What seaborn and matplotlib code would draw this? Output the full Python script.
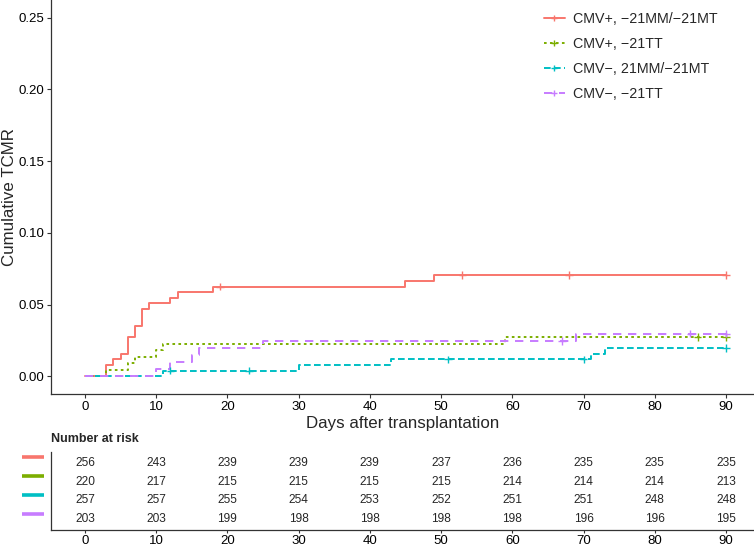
import pandas as pd
import matplotlib.pyplot as plt
import matplotlib.transforms as mtransforms
from matplotlib.lines import Line2D
import seaborn as sns

# groups
groups = ["CMV+, −21MM/−21MT", "CMV+, −21TT", "CMV−, 21MM/−21MT", "CMV−, −21TT"]
colors = ["#F8766D", "#7CAE00", "#00BFC4", "#C77CFF"]

# step curves (day, cumulative TCMR)
red_days = [0, 3, 4, 5, 6, 7, 8, 9, 12, 13, 18, 45, 49, 90]
red_cum = [0, 0.0078, 0.0117, 0.0156, 0.0273, 0.0352, 0.0469, 0.0508, 0.0547,
           0.0586, 0.0625, 0.0664, 0.0707, 0.0707]
green_days = [0, 3, 6, 7, 10, 11, 59, 90]
green_cum = [0, 0.0045, 0.0091, 0.0136, 0.0182, 0.0227, 0.0274, 0.0274]
cyan_days = [0, 11, 30, 43, 71, 73, 90]
cyan_cum = [0, 0.0039, 0.0078, 0.0118, 0.0158, 0.0199, 0.0199]
purple_days = [0, 10, 12, 15, 16, 25, 69, 90]
purple_cum = [0, 0.0049, 0.0099, 0.0148, 0.0197, 0.0247, 0.0298, 0.0298]

# censor marks
red_cens_days = [19, 53, 68, 90]
red_cens_cum = [0.0625, 0.0707, 0.0707, 0.0707]
green_cens_days = [86, 90]
green_cens_cum = [0.0274, 0.0274]
cyan_cens_days = [12, 23, 51, 70, 90]
cyan_cens_cum = [0.0039, 0.0039, 0.0118, 0.0118, 0.0199]
purple_cens_days = [67, 85, 90]
purple_cens_cum = [0.0247, 0.0298, 0.0298]

# number at risk
risk_days = [0, 10, 20, 30, 40, 50, 60, 70, 80, 90]
risk_red = [256, 243, 239, 239, 239, 237, 236, 235, 235, 235]
risk_green = [220, 217, 215, 215, 215, 215, 214, 214, 214, 213]
risk_cyan = [257, 257, 255, 254, 253, 252, 251, 251, 248, 248]
risk_purple = [203, 203, 199, 198, 198, 198, 198, 196, 196, 195]

y_ticks = [0.00, 0.05, 0.10, 0.15, 0.20, 0.25]

curves = pd.concat([
    pd.DataFrame({"day": d, "cum": c, "group": g})
    for d, c, g in zip([red_days, green_days, cyan_days, purple_days],
                       [red_cum, green_cum, cyan_cum, purple_cum], groups)
])
cens = pd.concat([
    pd.DataFrame({"day": d, "cum": c, "group": g})
    for d, c, g in zip([red_cens_days, green_cens_days, cyan_cens_days, purple_cens_days],
                       [red_cens_cum, green_cens_cum, cyan_cens_cum, purple_cens_cum], groups)
])
risk_rows = [risk_red, risk_green, risk_cyan, risk_purple]

sns.set_style("ticks")
plt.rcParams["font.family"] = ["Liberation Sans", "DejaVu Sans"]
plt.rcParams["lines.scale_dashes"] = False

palette = dict(zip(groups, colors))
dash_list = ["", (1.9, 2.4), (4.8, 2.4), (6.0, 4.8)]
dash_map = dict(zip(groups, dash_list))

fig = plt.figure(figsize=(7.54, 5.47), dpi=100)
ax = fig.add_axes([0.0676, 0.2792, 0.9324, 0.7208])
ax_tab = fig.add_axes([0.0676, 0.0311, 0.9324, 0.1431])

sns.lineplot(data=curves, x="day", y="cum", hue="group", style="group",
             palette=palette, dashes=dash_map, drawstyle="steps-post",
             estimator=None, sort=False, linewidth=1.4, legend=False, ax=ax)
sns.scatterplot(data=cens, x="day", y="cum", hue="group", palette=palette,
                marker="+", s=30, linewidth=1.0, legend=False, ax=ax, zorder=3)

ax.set_xlim(-4.77, 93.93)
ax.set_ylim(-0.01255, 0.26234)
ax.set_xticks(risk_days)
ax.set_yticks(y_ticks)
ax.set_yticklabels([f"{v:.2f}" for v in y_ticks])
ax.set_xlabel("Days after transplantation", fontsize=12.2, labelpad=2)
ax.set_ylabel("Cumulative TCMR", fontsize=12.2, labelpad=0.5)
for s in ["top", "right"]:
    ax.spines[s].set_visible(False)
for s in ["left", "bottom"]:
    ax.spines[s].set_color("#333333")
    ax.spines[s].set_linewidth(0.9)
ax.tick_params(axis="both", labelsize=9.5, length=3, width=0.8,
               color="#333333", labelcolor="black", pad=2)

handles = [Line2D([], [], color=c, linewidth=1.4, marker="+", markersize=5,
                  markeredgewidth=1.0,
                  **({"dashes": d} if d else {"linestyle": "-"}))
           for c, d in zip(colors, dash_list)]
ax.legend(handles, groups, loc="upper left", frameon=False, fontsize=10.3,
          handlelength=1.45, handletextpad=0.6, labelspacing=0.78,
          borderpad=0, borderaxespad=0)
leg = ax.get_legend()
leg.set_bbox_to_anchor((544 / 754, 1 - 12 / 547), transform=fig.transFigure)

# risk table
row_pos = [4, 3, 2, 1]
for rp, vals in zip(row_pos, risk_rows):
    for d, v in zip(risk_days, vals):
        ax_tab.text(d, rp, str(v), ha="center", va="center", fontsize=8.6)
ax_tab.set_xlim(-4.77, 93.93)
ax_tab.set_ylim(0.434, 4.582)
ax_tab.set_xticks(risk_days)
ax_tab.set_yticks([])
for s in ["top", "right"]:
    ax_tab.spines[s].set_visible(False)
for s in ["left", "bottom"]:
    ax_tab.spines[s].set_color("#333333")
    ax_tab.spines[s].set_linewidth(0.9)
ax_tab.tick_params(axis="x", labelsize=9.5, length=2.5, width=0.8,
                   color="#333333", labelcolor="black", pad=0.8)

trans = mtransforms.blended_transform_factory(fig.transFigure, ax_tab.transData)
for rp, c in zip(row_pos, colors):
    ax_tab.plot([22 / 754, 44 / 754], [rp + 0.29, rp + 0.29], color=c, linewidth=2.6,
                solid_capstyle="butt", transform=trans, clip_on=False)

ax_tab.annotate("Number at risk", xy=(0, 1), xycoords="axes fraction",
                xytext=(0, 9), textcoords="offset points", ha="left", va="center",
                fontsize=9, fontweight="bold")

fig.savefig("out.png", dpi=100)
